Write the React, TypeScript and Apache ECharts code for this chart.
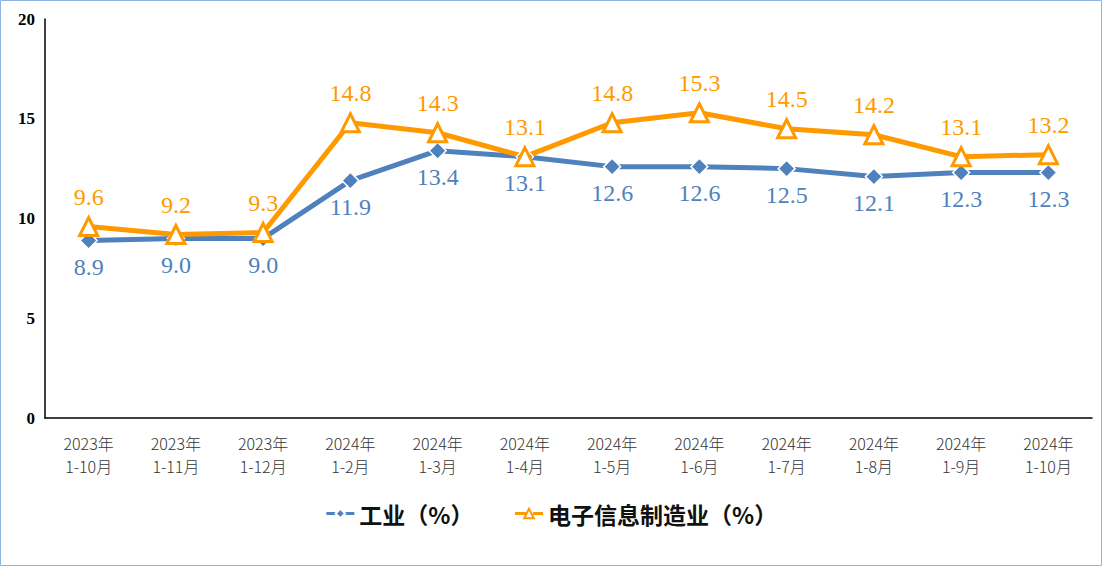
import React, { useEffect, useRef } from "react";
import * as echarts from "echarts";

const categories = [
  "2023年\n1-10月", "2023年\n1-11月", "2023年\n1-12月", "2024年\n1-2月",
  "2024年\n1-3月", "2024年\n1-4月", "2024年\n1-5月", "2024年\n1-6月",
  "2024年\n1-7月", "2024年\n1-8月", "2024年\n1-9月", "2024年\n1-10月",
];
const industry = [8.9, 9.0, 9.0, 11.9, 13.4, 13.1, 12.6, 12.6, 12.5, 12.1, 12.3, 12.3];
const electronics = [9.6, 9.2, 9.3, 14.8, 14.3, 13.1, 14.8, 15.3, 14.5, 14.2, 13.1, 13.2];
const seriesNames = ["工业（%）", "电子信息制造业（%）"];

const BLUE = "#4F81BD";
const ORANGE = "#FF9900";

export default function App() {
  const ref = useRef<HTMLDivElement>(null);
  useEffect(() => {
    document.body.style.margin = "0";
    const chart = echarts.init(ref.current!, null, { renderer: "svg" });
    chart.setOption({
      animation: false,
      backgroundColor: "#fff",
      grid: { left: 45, right: 10, top: 19, bottom: 148 },
      graphic: [
        {
          type: "rect",
          shape: { x: 0.5, y: 0.5, width: 1101, height: 565 },
          style: { fill: "none", stroke: "#8EB4E3", lineWidth: 1 },
          silent: true,
        },
      ],
      legend: {
        bottom: 36,
        left: "center",
        itemGap: 40,
        itemWidth: 28,
        itemHeight: 12,
        textStyle: {
          fontFamily: "Noto Sans CJK SC",
          fontWeight: "bold",
          fontSize: 23,
          color: "#111",
        },
        lineStyle: { type: "dashed", width: 3 },
        data: seriesNames,
      },
      xAxis: {
        type: "category",
        data: categories,
        boundaryGap: true,
        axisLine: { lineStyle: { color: "#000", width: 1.5 } },
        axisTick: { show: false },
        axisLabel: {
          interval: 0,
          margin: 13,
          fontFamily: "Noto Sans CJK SC",
          fontWeight: 300,
          fontSize: 16,
          lineHeight: 23,
          color: "#333",
        },
      },
      yAxis: {
        type: "value",
        min: 0,
        max: 20,
        interval: 5,
        axisLine: { show: true, lineStyle: { color: "#000", width: 1.5 } },
        axisTick: { show: false },
        splitLine: { show: false },
        axisLabel: {
          margin: 10,
          fontFamily: "Liberation Serif",
          fontWeight: "bold",
          fontSize: 17,
          color: "#000",
        },
      },
      series: [
        {
          name: seriesNames[0],
          type: "line",
          data: industry,
          symbol: "diamond",
          symbolSize: 17,
          lineStyle: { color: BLUE, width: 5 },
          itemStyle: { color: BLUE, borderColor: "#fff", borderWidth: 1.5 },
          label: {
            show: true,
            position: "bottom",
            distance: 5,
            formatter: (p: any) => p.value.toFixed(1),
            fontFamily: "Liberation Serif",
            fontSize: 24,
            color: BLUE,
          },
        },
        {
          name: seriesNames[1],
          type: "line",
          data: electronics,
          symbol: "triangle",
          symbolSize: 18,
          lineStyle: { color: ORANGE, width: 5 },
          itemStyle: { color: "#fff", borderColor: ORANGE, borderWidth: 3 },
          label: {
            show: true,
            position: "top",
            distance: 7,
            formatter: (p: any) => p.value.toFixed(1),
            fontFamily: "Liberation Serif",
            fontSize: 24,
            color: ORANGE,
          },
        },
      ],
    });
    return () => chart.dispose();
  }, []);
  return <div ref={ref} style={{ width: 1102, height: 566 }} />;
}
